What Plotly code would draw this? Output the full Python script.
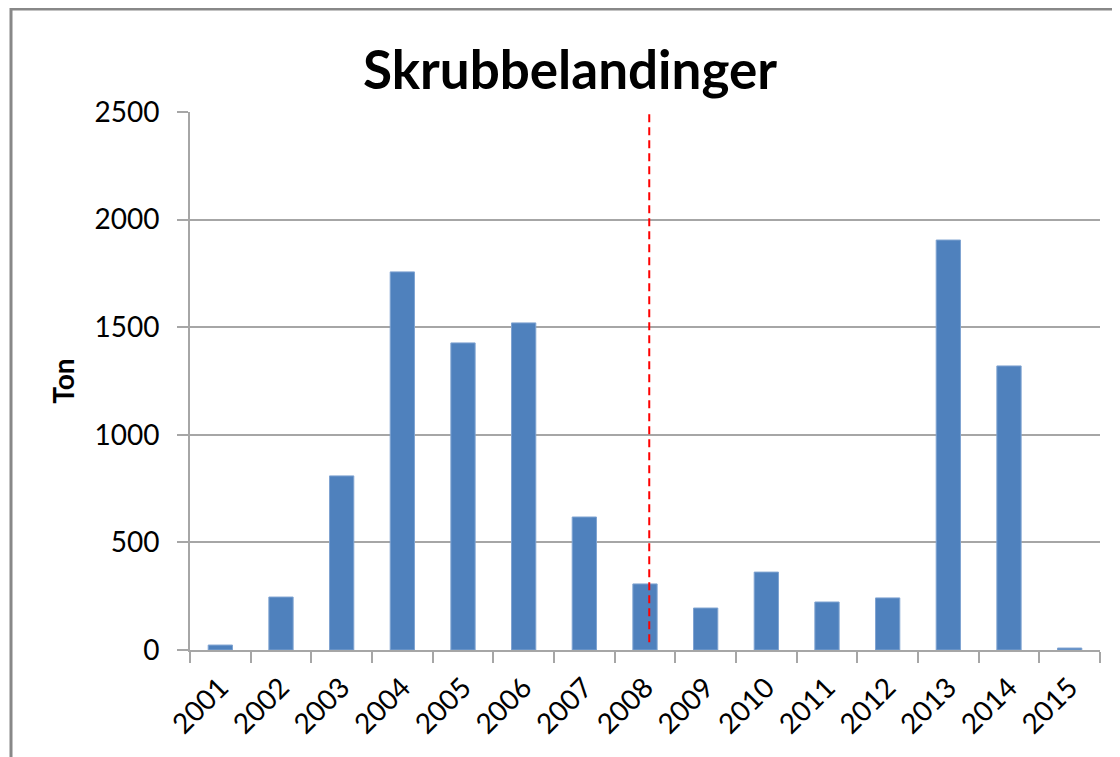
import plotly.graph_objects as go

years = ["2001", "2002", "2003", "2004", "2005", "2006", "2007", "2008",
         "2009", "2010", "2011", "2012", "2013", "2014", "2015"]
tons = [23, 246, 809, 1757, 1427, 1520, 618, 307, 195, 362, 223, 242, 1905, 1320, 9]

title_text = "Skrubbelandinger"
y_title = "Ton"
y_ticks = [0, 500, 1000, 1500, 2000, 2500]
marker_x = 7.07  # dashed line position (category index, just right of 2008)

fig = go.Figure()
fig.add_trace(go.Bar(x=years, y=tons,
                     marker=dict(color="#4F81BD", line=dict(width=1, color="#7FA3D1")),
                     showlegend=False))

# page has an 8px body margin; figure is sized to fill the rest of the window
OFF = 8
W, H = 1120 - OFF, 757 - OFF
ml, mr, mt, mb = 190 - OFF, 20, 112 - OFF, 107
pw, ph = W - ml - mr, H - mt - mb

fig.update_layout(
    width=W, height=H,
    margin=dict(l=ml, r=mr, t=mt, b=mb, autoexpand=False),
    paper_bgcolor="white", plot_bgcolor="white",
    bargap=0.6,
    font=dict(family="Lato, Open Sans, sans-serif", color="black"),
    title=dict(text=f"<b>{title_text}</b>", x=(570 - OFF) / W, xanchor="center",
               y=1 - (70 - OFF) / H, yanchor="middle",
               font=dict(size=53, family="Lato, sans-serif", color="black")),
)
fig.update_xaxes(
    type="category", tickangle=-45, tickfont=dict(size=28), automargin=False,
    ticklabelstandoff=8,
    showline=True, linecolor="#A6A6A6", linewidth=2,
    ticks="outside", tickson="boundaries", ticklen=11, tickcolor="#A6A6A6", tickwidth=2,
    showgrid=False,
)
fig.update_yaxes(
    range=[0, 2500], tickvals=y_ticks, tickfont=dict(size=28), automargin=False,
    ticklabelstandoff=12,
    showline=True, linecolor="#A6A6A6", linewidth=2,
    ticks="outside", ticklen=11, tickcolor="#A6A6A6", tickwidth=2,
    showgrid=True, gridcolor="#A6A6A6", gridwidth=1.5,
    zeroline=False,
    title=dict(text=f"<b>{y_title}</b>", font=dict(size=28), standoff=12),
)

# dashed vertical marker
fig.add_shape(type="line", xref="x", yref="y", x0=marker_x, x1=marker_x,
              y0=2490, y1=30, line=dict(color="#FF0000", width=2, dash="8px,5px"))

# outer chart border (page coords 11,9 -> beyond right/bottom edge)
fig.add_shape(type="rect", xref="paper", yref="paper",
              x0=(11 - OFF - ml) / pw, x1=(W + 10 - ml) / pw,
              y0=-(mb + 10) / ph,
              y1=(H - (9 - OFF) - mb) / ph,
              line=dict(color="#888888", width=3), layer="below")

fig.write_html("out.html")
